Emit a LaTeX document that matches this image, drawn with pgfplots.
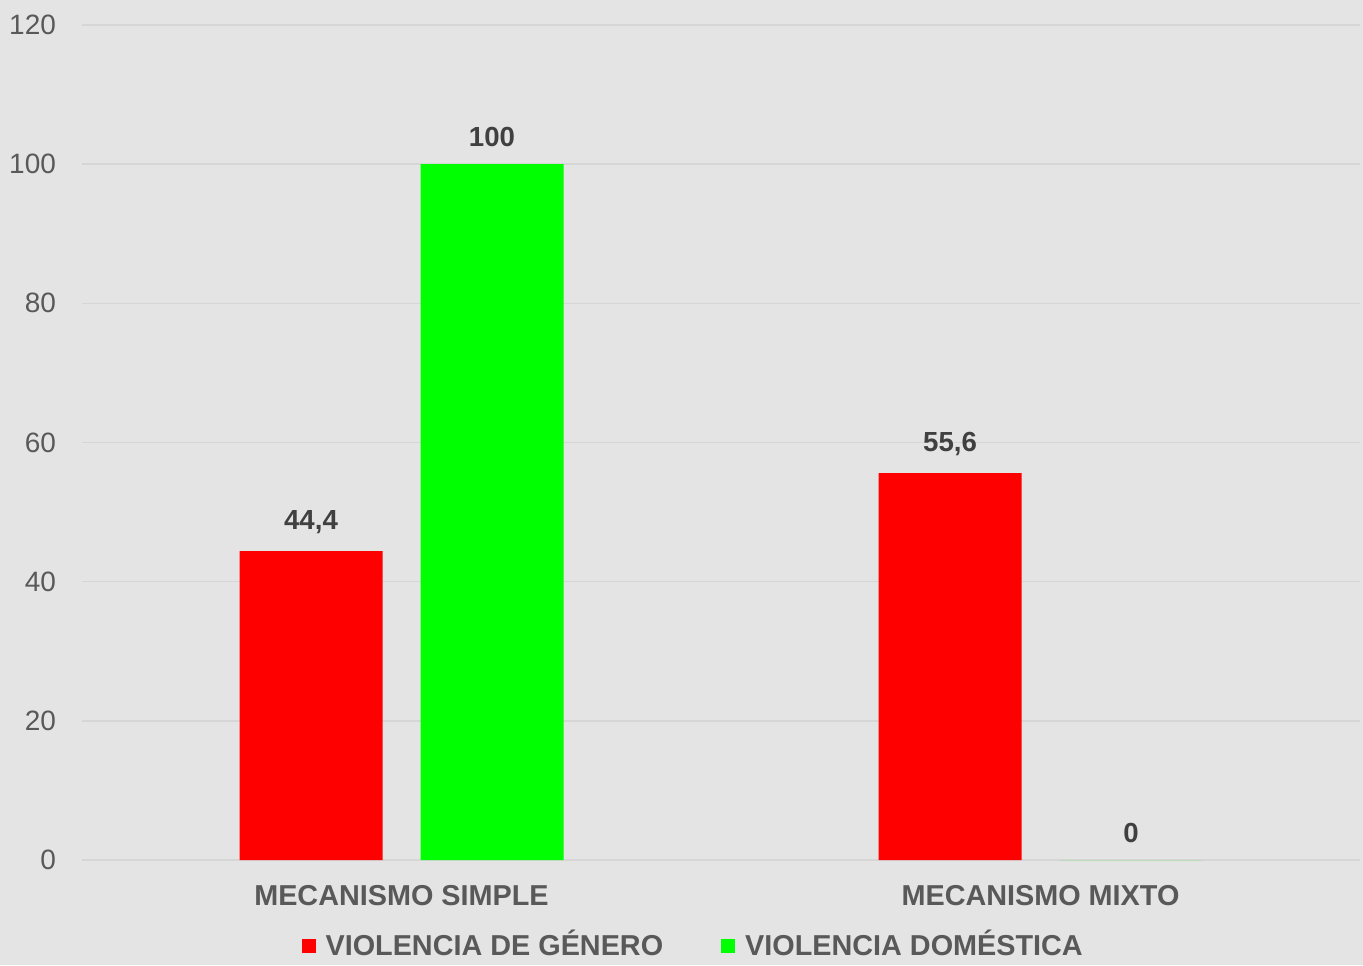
\documentclass[border=0pt]{standalone}
\usepackage{pgfplots}
\pgfplotsset{compat=1.18}
\usepackage{fontspec}
\setmainfont{Liberation Sans}
\definecolor{bg}{HTML}{E4E4E4}
\definecolor{gridc}{HTML}{D6D6D6}
\definecolor{tickc}{HTML}{595959}
\definecolor{labc}{HTML}{404040}
\definecolor{vred}{HTML}{FF0000}
\definecolor{vgreen}{HTML}{00FF00}
\begin{document}
\begin{tikzpicture}
\fill[bg] (-41pt,-52.5pt) rectangle (640.5pt,430pt);
\begin{axis}[
  at={(0,0)}, anchor=south west,
  scale only axis,
  width=639pt, height=417.5pt,
  xmin=-0.5, xmax=1.5,
  ymin=0, ymax=120,
  ytick={0,20,...,120},
  xtick={0,1},
  xticklabels={MECANISMO SIMPLE, MECANISMO MIXTO},
  ybar=19pt,
  bar width=71.5pt,
  axis line style={draw=none},
  major tick length=0pt,
  ymajorgrids,
  grid style={gridc, line width=0.8pt},
  /pgf/number format/assume math mode=true,
  yticklabel style={font=\fontsize{14}{16}\selectfont, text=tickc, xshift=-9.5pt},
  xticklabel style={font=\fontsize{14.4}{16}\selectfont\bfseries, text=tickc, yshift=-9pt},
  nodes near coords,
  nodes near coords style={font=\fontsize{13.8}{16}\selectfont\bfseries, text=labc, yshift=5pt,
    /pgf/number format/.cd, use comma, fixed, precision=1, assume math mode=true},
  legend columns=2,
  legend style={
    at={(axis description cs:0.479,0)}, anchor=north, yshift=-33pt,
    draw=none, fill=none,
    font=\fontsize{14.4}{16}\selectfont\bfseries,
    text=tickc,
    /tikz/every even column/.append style={column sep=27pt},
    /tikz/every odd column/.append style={column sep=3pt},
    inner sep=0pt,
  },
  legend image code/.code={\fill[#1] (0pt,-4pt) rectangle (7pt,3pt);},
]
\addplot[fill=vred, draw=none] coordinates {(0,44.4) (1,55.6)};
\addplot[fill=vgreen, draw=none] coordinates {(0,100) (1,0)};
\legend{VIOLENCIA DE GÉNERO, VIOLENCIA DOMÉSTICA}
\end{axis}
\pgfresetboundingbox
\useasboundingbox (-41pt,-52.5pt) rectangle (640.5pt,430pt);
\end{tikzpicture}
\end{document}
